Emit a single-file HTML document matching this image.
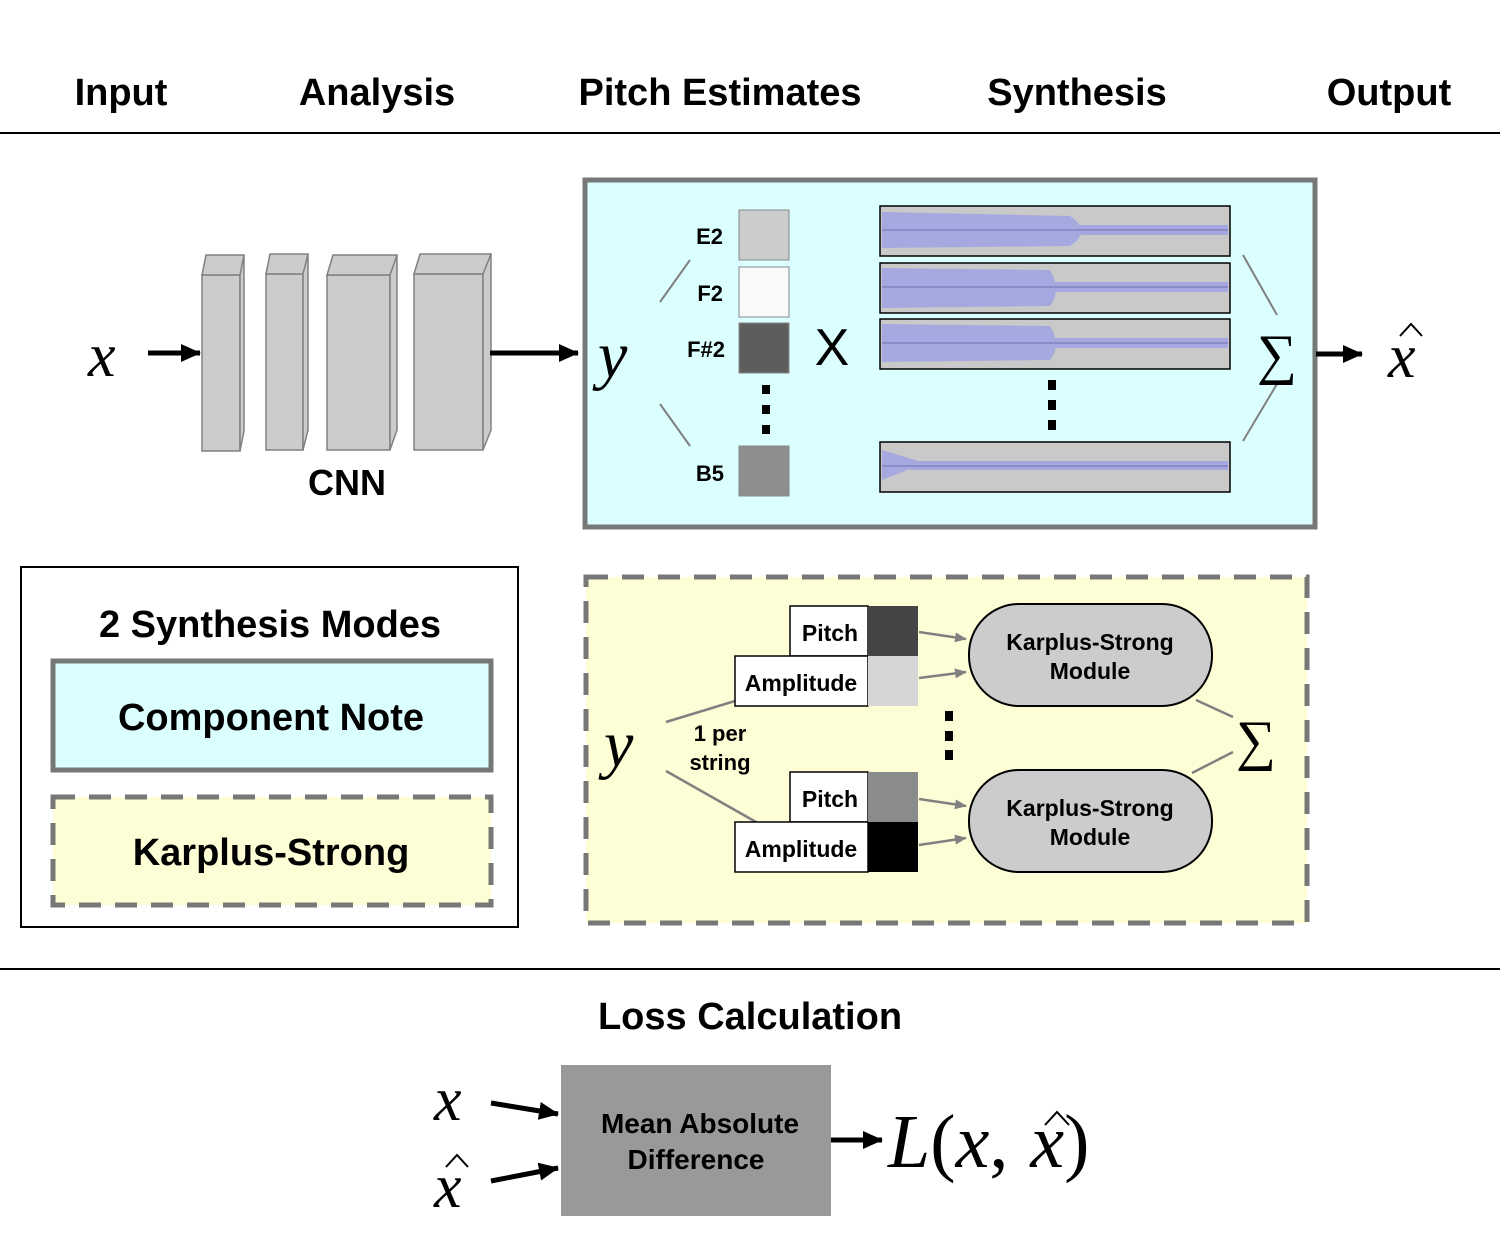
<!DOCTYPE html>
<html><head><meta charset="utf-8"><style>
body{margin:0;background:#fff}
svg{display:block}
.h{font-family:"Liberation Sans",sans-serif;font-weight:bold}
.m{font-family:"Liberation Serif",serif;font-style:italic}
</style></head><body>
<svg width="1500" height="1250" viewBox="0 0 1500 1250" xmlns="http://www.w3.org/2000/svg">
<defs>
<marker id="ag" markerWidth="12" markerHeight="10" refX="11" refY="5" orient="auto" markerUnits="userSpaceOnUse"><path d="M0,0 L12,5 L0,10z" fill="#808080"/></marker>
<marker id="abig" markerWidth="20" markerHeight="18" refX="19" refY="9" orient="auto" markerUnits="userSpaceOnUse"><path d="M0,0 L20,9 L0,18z" fill="#000"/></marker>
</defs>
<g class="h" font-size="38" text-anchor="middle">
<text x="121" y="105">Input</text><text x="377" y="105">Analysis</text><text x="720" y="105">Pitch Estimates</text><text x="1077" y="105">Synthesis</text><text x="1389" y="105">Output</text>
</g>
<line x1="0" y1="133" x2="1500" y2="133" stroke="#000" stroke-width="2"/>
<line x1="0" y1="969" x2="1500" y2="969" stroke="#000" stroke-width="2"/>

<text class="m" x="88" y="376" font-size="62">x</text>
<line x1="148" y1="353" x2="200" y2="353" stroke="#000" stroke-width="5" marker-end="url(#abig)"/>
<g fill="#cccccc" stroke="#808080" stroke-width="1.5">
<rect x="202" y="275" width="38" height="176"/><path d="M202,275 L206,255 L244,255 L240,275z M240,275 L244,255 L244,431 L240,451z"/>
<rect x="266" y="274" width="37" height="176"/><path d="M266,274 L270,254 L308,254 L303,274z M303,274 L308,254 L308,430 L303,450z"/>
<rect x="327" y="275" width="63" height="175"/><path d="M327,275 L333,255 L397,255 L390,275z M390,275 L397,255 L397,430 L390,450z"/>
<rect x="414" y="274" width="69" height="176"/><path d="M414,274 L420,254 L491,254 L483,274z M483,274 L491,254 L491,430 L483,450z"/>
</g>
<text class="h" x="347" y="495" font-size="36" text-anchor="middle">CNN</text>
<line x1="490" y1="353" x2="578" y2="353" stroke="#000" stroke-width="5" marker-end="url(#abig)"/>

<rect x="585" y="180" width="730" height="347" fill="#dbfefe" stroke="#777" stroke-width="5"/>
<text class="m" x="598" y="377" font-size="66">y</text>
<line x1="660" y1="302" x2="690" y2="260" stroke="#808080" stroke-width="2"/>
<line x1="660" y1="404" x2="690" y2="446" stroke="#808080" stroke-width="2"/>
<g class="h" font-size="22" text-anchor="end">
<text x="723" y="244">E2</text><text x="723" y="301">F2</text><text x="725" y="357">F#2</text><text x="724" y="481">B5</text>
</g>
<g stroke="#888" stroke-width="1">
<rect x="739" y="210" width="50" height="50" fill="#cccccc"/>
<rect x="739" y="267" width="50" height="50" fill="#f8f9fb"/>
<rect x="739" y="323" width="50" height="50" fill="#5d5d5d"/>
<rect x="739" y="446" width="50" height="50" fill="#8e8e8e"/>
</g>
<g fill="#000"><rect x="762" y="385" width="8" height="9"/><rect x="762" y="405" width="8" height="9"/><rect x="762" y="425" width="8" height="9"/>
<rect x="1048" y="380" width="8" height="10"/><rect x="1048" y="400" width="8" height="10"/><rect x="1048" y="420" width="8" height="10"/></g>
<text x="832" y="365" font-family="Liberation Sans,sans-serif" font-size="52" text-anchor="middle">X</text>
<g stroke="#000" stroke-width="1.5" fill="#c9c9c9">
<rect x="880" y="206" width="350" height="50"/><rect x="880" y="263" width="350" height="50"/><rect x="880" y="319" width="350" height="50"/><rect x="880" y="442" width="350" height="50"/>
</g>
<g fill="#8f94ee" opacity="0.6">
<path d="M882,212 L1070,216 Q1092,231 1070,246 L882,248z"/><rect x="1070" y="225" width="158" height="10"/>
<path d="M882,268 L1050,270 Q1062,290 1050,306 L882,308z"/><rect x="1050" y="282" width="178" height="10"/>
<path d="M882,324 L1050,326 Q1062,345 1050,360 L882,362z"/><rect x="1050" y="338" width="178" height="10"/>
<path d="M882,450 L925,463 L882,480z"/><rect x="910" y="461" width="318" height="9"/>
</g>
<g stroke="#6c70b0" stroke-width="1"><line x1="882" y1="230" x2="1228" y2="230"/><line x1="882" y1="287" x2="1228" y2="287"/><line x1="882" y1="343" x2="1228" y2="343"/><line x1="882" y1="466" x2="1228" y2="466"/></g>
<line x1="1243" y1="255" x2="1277" y2="315" stroke="#808080" stroke-width="2"/>
<line x1="1243" y1="441" x2="1277" y2="384" stroke="#808080" stroke-width="2"/>
<text x="1277" y="373" font-family="Liberation Serif,serif" font-size="56" text-anchor="middle">∑</text>
<line x1="1316" y1="354" x2="1362" y2="354" stroke="#000" stroke-width="5" marker-end="url(#abig)"/>
<text class="m" x="1388" y="377" font-size="62">x</text>
<path d="M1400,336 L1411,324 L1422,336" fill="none" stroke="#000" stroke-width="2"/>

<rect x="21" y="567" width="497" height="360" fill="#fff" stroke="#000" stroke-width="2"/>
<text class="h" x="270" y="637" font-size="38" text-anchor="middle">2 Synthesis Modes</text>
<rect x="53" y="661" width="438" height="109" fill="#dbfefe" stroke="#777" stroke-width="5"/>
<text class="h" x="271" y="730" font-size="38" text-anchor="middle">Component Note</text>
<rect x="53" y="797" width="438" height="108" fill="#fefed6" stroke="#777" stroke-width="5" stroke-dasharray="22,14"/>
<text class="h" x="271" y="865" font-size="38" text-anchor="middle">Karplus-Strong</text>

<rect x="586" y="577" width="721" height="346" fill="#fefed6" stroke="#777" stroke-width="5" stroke-dasharray="22,14"/>
<text class="m" x="604" y="766" font-size="66">y</text>
<line x1="666" y1="722" x2="735" y2="701" stroke="#808080" stroke-width="2.5"/>
<line x1="666" y1="771" x2="756" y2="822" stroke="#808080" stroke-width="2.5"/>
<text class="h" x="720" y="741" font-size="22" text-anchor="middle">1 per</text>
<text class="h" x="720" y="770" font-size="22" text-anchor="middle">string</text>
<g stroke="#000" stroke-width="1.5" fill="#fff">
<rect x="790" y="606" width="78" height="50"/><rect x="735" y="656" width="133" height="50"/>
<rect x="790" y="772" width="78" height="50"/><rect x="735" y="822" width="133" height="50"/>
</g>
<rect x="868" y="606" width="50" height="50" fill="#444"/><rect x="868" y="656" width="50" height="50" fill="#d6d6d6"/>
<rect x="868" y="772" width="50" height="50" fill="#8a8c8c"/><rect x="868" y="822" width="50" height="50" fill="#000"/>
<g class="h" font-size="23" text-anchor="middle">
<text x="830" y="641">Pitch</text><text x="801" y="691">Amplitude</text>
<text x="830" y="807">Pitch</text><text x="801" y="857">Amplitude</text>
</g>
<g stroke="#808080" stroke-width="2.5">
<line x1="919" y1="632" x2="966" y2="639" marker-end="url(#ag)"/><line x1="919" y1="678" x2="966" y2="672" marker-end="url(#ag)"/>
<line x1="919" y1="799" x2="966" y2="806" marker-end="url(#ag)"/><line x1="919" y1="845" x2="966" y2="838" marker-end="url(#ag)"/>
<line x1="1196" y1="700" x2="1233" y2="717"/><line x1="1192" y1="773" x2="1233" y2="752"/>
</g>
<rect x="969" y="604" width="243" height="102" rx="50" fill="#cccccc" stroke="#000" stroke-width="2"/>
<rect x="969" y="770" width="243" height="102" rx="50" fill="#cccccc" stroke="#000" stroke-width="2"/>
<g class="h" font-size="23" text-anchor="middle">
<text x="1090" y="650">Karplus-Strong</text><text x="1090" y="679">Module</text>
<text x="1090" y="816">Karplus-Strong</text><text x="1090" y="845">Module</text>
</g>
<g fill="#000"><rect x="945" y="711" width="8" height="10"/><rect x="945" y="731" width="8" height="10"/><rect x="945" y="750" width="8" height="10"/></g>
<text x="1256" y="759" font-family="Liberation Serif,serif" font-size="56" text-anchor="middle">∑</text>

<text class="h" x="750" y="1029" font-size="38" text-anchor="middle">Loss Calculation</text>
<text class="m" x="434" y="1120" font-size="62">x</text>
<text class="m" x="434" y="1207" font-size="62">x</text>
<path d="M446,1167 L457,1155 L468,1167" fill="none" stroke="#000" stroke-width="2"/>
<line x1="491" y1="1103" x2="558" y2="1114" stroke="#000" stroke-width="5" marker-end="url(#abig)"/>
<line x1="491" y1="1181" x2="558" y2="1168" stroke="#000" stroke-width="5" marker-end="url(#abig)"/>
<rect x="561" y="1065" width="270" height="151" fill="#999"/>
<text class="h" x="700" y="1133" font-size="28" text-anchor="middle">Mean Absolute</text>
<text class="h" x="696" y="1169" font-size="28" text-anchor="middle">Difference</text>
<line x1="831" y1="1140" x2="882" y2="1140" stroke="#000" stroke-width="5" marker-end="url(#abig)"/>
<text x="888" y="1167" font-family="Liberation Serif,serif" font-size="76"><tspan font-style="italic">L</tspan>(<tspan font-style="italic">x</tspan>,<tspan dx="22" font-style="italic">x</tspan>)</text>
<path d="M1045,1125 L1057,1112 L1069,1125" fill="none" stroke="#000" stroke-width="2"/>
</svg>
</body></html>
